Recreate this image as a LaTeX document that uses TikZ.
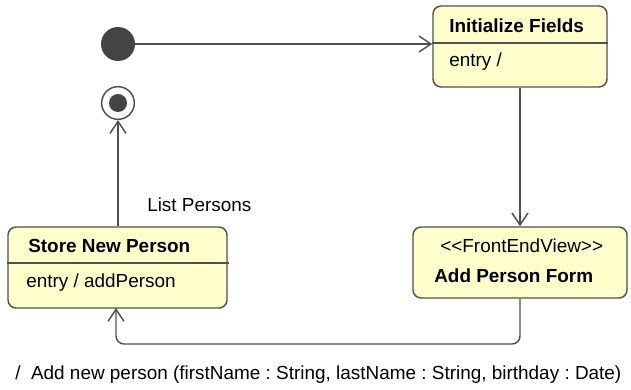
\documentclass[tikz,border=0pt]{standalone}
\usepackage{fontspec}
\setmainfont{Liberation Sans}
\usetikzlibrary{arrows.meta,fit}
\definecolor{boxfill}{HTML}{FFFFCC}
\definecolor{lineg}{HTML}{505050}
\definecolor{dotg}{HTML}{444444}
\frenchspacing
\begin{document}
\begin{tikzpicture}[x=0.75pt,y=-0.75pt,
  font=\fontsize{14.2pt}{17pt}\selectfont,
  statebox/.style={draw=lineg, fill=boxfill, line width=1.1pt, rounded corners=6pt, inner sep=0pt},
  sepline/.style={draw=lineg, line width=1.1pt},
  arr/.style={draw=lineg, line width=1.1pt, -{Straight Barb[length=9pt,width=12pt,line width=1.1pt]}},
  txt/.style={anchor=base west, inner sep=0pt, text=black},
  btxt/.style={txt, font=\fontsize{14.2pt}{17pt}\selectfont\bfseries},
  initst/.style={circle, fill=dotg, minimum size=25.5pt, inner sep=0pt},
  finalst/.style={circle, draw=lineg, fill=white, line width=1.1pt, minimum size=24.5pt, inner sep=0pt}]
\useasboundingbox (0,0) rectangle (631,389);
% states
\node[initst] (init) at (118,44) {};
\node[finalst] (fin) at (118,103) {};
\fill[dotg] (fin.center) circle (9);
\node[statebox, fit={(433,6) (607,87)}] (ifields) {};
\draw[sepline] (ifields.west |- 0,43) -- (608,43);
\node[btxt] (ifT) at (449,32) {Initialize Fields};
\node[txt] (ifE) at (449,66) {entry /};
\node[statebox, fit={(413,227) (627,298)}] (apf) {};
\node[txt] (apfS) at (440,252) {{<}{<}FrontEndView{>}{>}};
\node[btxt] (apfT) at (434,282) {Add Person Form};
\node[statebox, fit={(8,227) (227,308)}] (snp) {};
\draw[sepline] (snp.west |- 0,263) -- (229,263);
\node[btxt] (snpT) at (28,252) {Store New Person};
\node[txt] (snpE) at (26,287) {entry / addPerson};
% connectors
\draw[arr] (init) -- (init -| ifields.west);
\draw[arr] (ifields.south) -- (apf.north);
\draw[arr, rounded corners=6pt] (apf.south) |- (116,344) -- (116,308);
\draw[arr] (snp.north -| fin.south) -- (fin.south);
\node[txt] (lbl) at (147,211) {List Persons};
\node[txt] (trig) at (15,379) {/\ \ Add new person (firstName : String, lastName : String, birthday : Date)};
\end{tikzpicture}
\end{document}
